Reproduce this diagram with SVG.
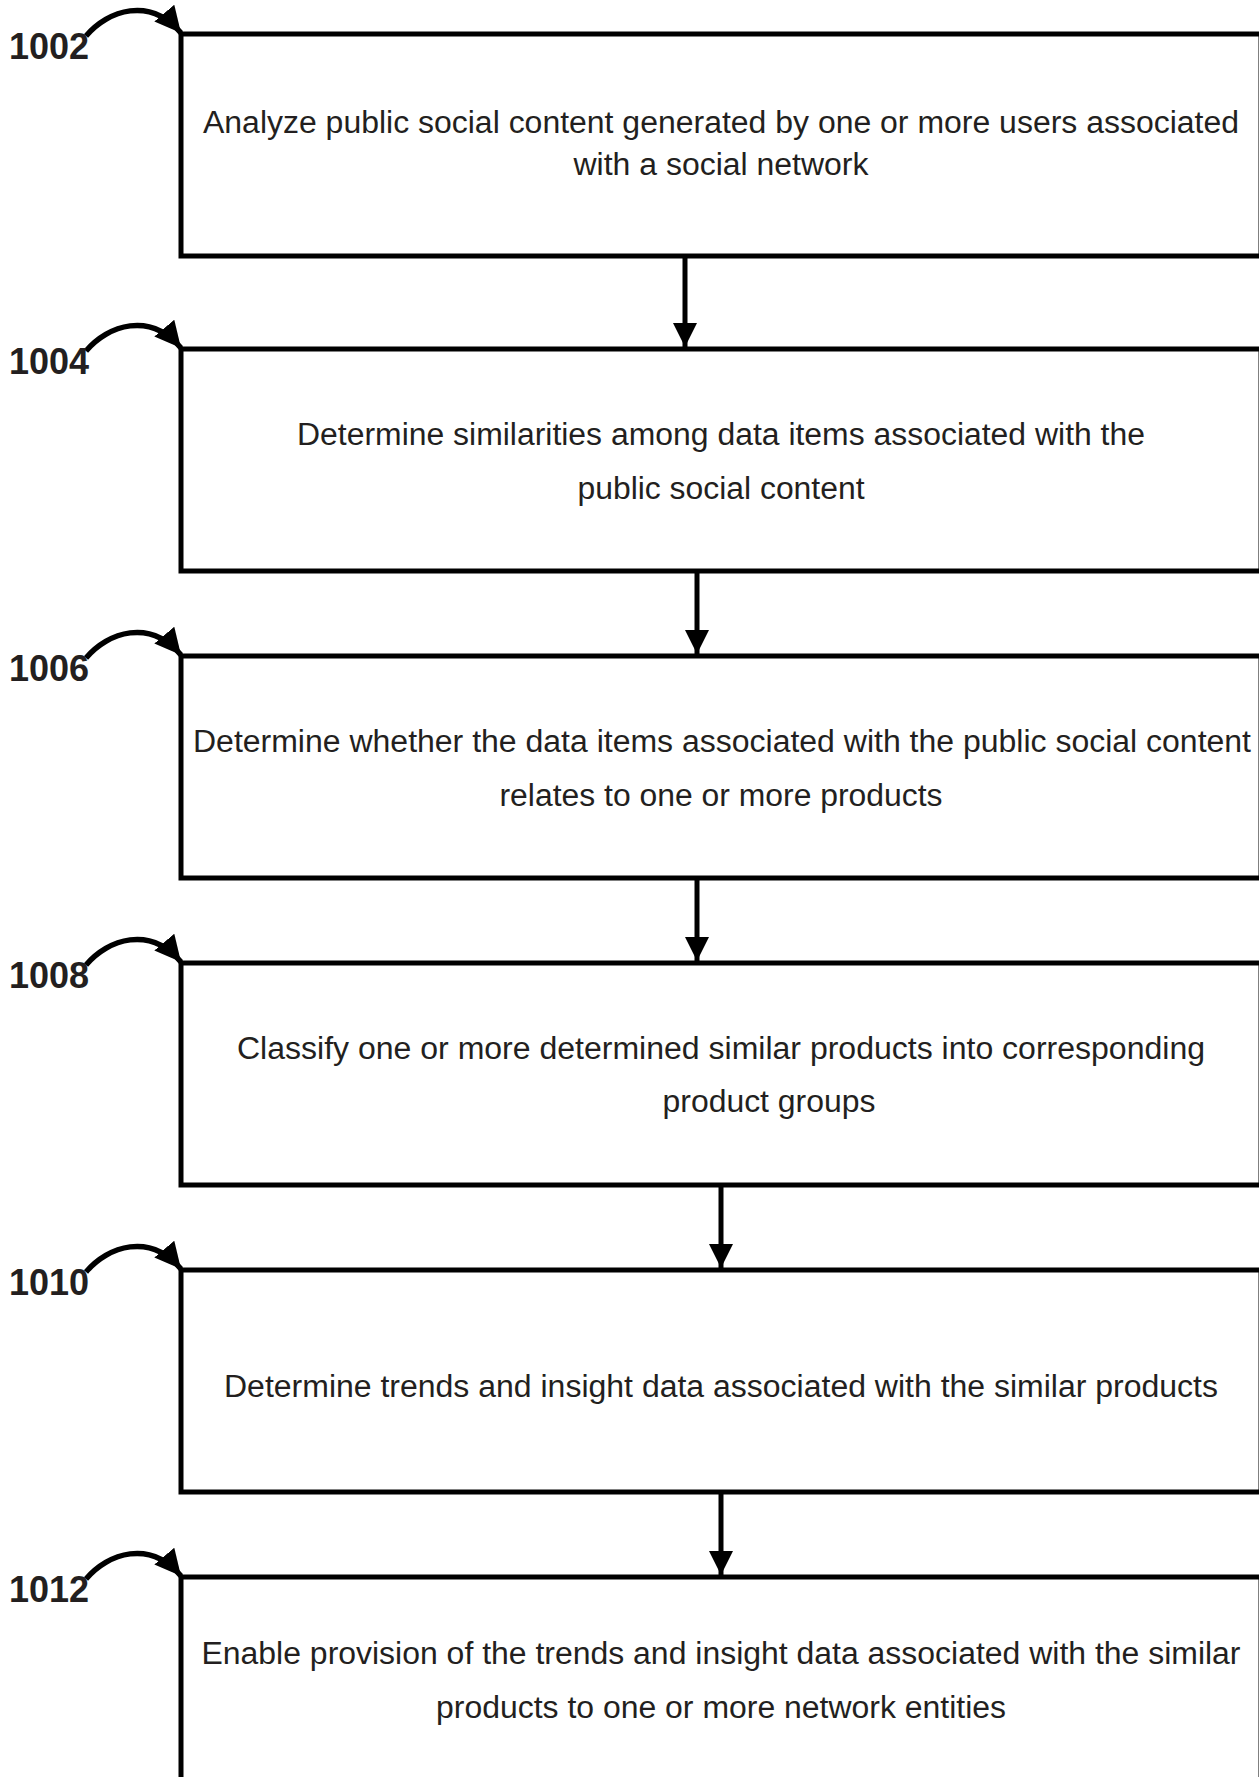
<svg xmlns="http://www.w3.org/2000/svg" width="1259" height="1777" viewBox="0 0 1259 1777">
<style>
.box{fill:#fff;stroke:#000;stroke-width:5}
.t{font-family:"Liberation Sans",Arial,sans-serif;font-size:31px;fill:#231f20}
.lbl{font-family:"Liberation Sans",Arial,sans-serif;font-size:36px;font-weight:bold;fill:#231f20}
.conn{fill:none;stroke:#000;stroke-width:5}
.ref{fill:none;stroke:#000;stroke-width:5.5}
</style>
<defs>
<marker id="ah" markerUnits="userSpaceOnUse" markerWidth="24" markerHeight="24" viewBox="0 0 24 24" refX="24" refY="12" orient="auto">
<path d="M0,0 L24,12 L0,24 z" fill="#000"/>
</marker>
<marker id="ah2" markerUnits="userSpaceOnUse" markerWidth="26" markerHeight="26" viewBox="0 0 26 26" refX="26" refY="13" orient="auto">
<path d="M0,0 L26,13 L0,26 z" fill="#000"/>
</marker>
</defs>
<rect width="1259" height="1777" fill="#fff"/>

<g id="node-1002">
<rect class="box" x="181" y="34" width="1080" height="222"/>
<text class="t" x="721" y="133" text-anchor="middle" textLength="1036" lengthAdjust="spacingAndGlyphs">Analyze public social content generated by one or more users associated</text>
<text class="t" x="721" y="175" text-anchor="middle" textLength="295" lengthAdjust="spacingAndGlyphs">with a social network</text>
<path class="ref" d="M86,36 C108,10 150,-4 181,33" marker-end="url(#ah2)"/>
<text class="lbl" x="9" y="59">1002</text>
</g>

<g id="node-1004">
<rect class="box" x="181" y="349" width="1080" height="222"/>
<text class="t" x="721" y="445" text-anchor="middle" textLength="848" lengthAdjust="spacingAndGlyphs">Determine similarities among data items associated with the</text>
<text class="t" x="721" y="499" text-anchor="middle" textLength="287" lengthAdjust="spacingAndGlyphs">public social content</text>
<path class="ref" d="M86,351 C108,325 150,311 181,348" marker-end="url(#ah2)"/>
<text class="lbl" x="9" y="374">1004</text>
</g>

<g id="node-1006">
<rect class="box" x="181" y="656" width="1080" height="222"/>
<text class="t" x="722" y="752" text-anchor="middle" textLength="1058" lengthAdjust="spacingAndGlyphs">Determine whether the data items associated with the public social content</text>
<text class="t" x="721" y="806" text-anchor="middle" textLength="443" lengthAdjust="spacingAndGlyphs">relates to one or more products</text>
<path class="ref" d="M86,658 C108,632 150,618 181,655" marker-end="url(#ah2)"/>
<text class="lbl" x="9" y="681">1006</text>
</g>

<g id="node-1008">
<rect class="box" x="181" y="963" width="1080" height="222"/>
<text class="t" x="721" y="1059" text-anchor="middle" textLength="968" lengthAdjust="spacingAndGlyphs">Classify one or more determined similar products into corresponding</text>
<text class="t" x="769" y="1112" text-anchor="middle" textLength="213" lengthAdjust="spacingAndGlyphs">product groups</text>
<path class="ref" d="M86,965 C108,939 150,925 181,962" marker-end="url(#ah2)"/>
<text class="lbl" x="9" y="988">1008</text>
</g>

<g id="node-1010">
<rect class="box" x="181" y="1270" width="1080" height="222"/>
<text class="t" x="721" y="1397" text-anchor="middle" textLength="994" lengthAdjust="spacingAndGlyphs">Determine trends and insight data associated with the similar products</text>
<path class="ref" d="M86,1272 C108,1246 150,1232 181,1269" marker-end="url(#ah2)"/>
<text class="lbl" x="9" y="1295">1010</text>
</g>

<g id="node-1012">
<rect class="box" x="181" y="1577" width="1080" height="260"/>
<text class="t" x="721" y="1664" text-anchor="middle" textLength="1039" lengthAdjust="spacingAndGlyphs">Enable provision of the trends and insight data associated with the similar</text>
<text class="t" x="721" y="1718" text-anchor="middle" textLength="570" lengthAdjust="spacingAndGlyphs">products to one or more network entities</text>
<path class="ref" d="M86,1579 C108,1553 150,1539 181,1576" marker-end="url(#ah2)"/>
<text class="lbl" x="9" y="1602">1012</text>
</g>

<g id="connectors">
<path class="conn" d="M685,258 L685,347" marker-end="url(#ah)"/>
<path class="conn" d="M697,573 L697,654" marker-end="url(#ah)"/>
<path class="conn" d="M697,880 L697,961" marker-end="url(#ah)"/>
<path class="conn" d="M721,1187 L721,1268" marker-end="url(#ah)"/>
<path class="conn" d="M721,1494 L721,1575" marker-end="url(#ah)"/>
</g>
</svg>
